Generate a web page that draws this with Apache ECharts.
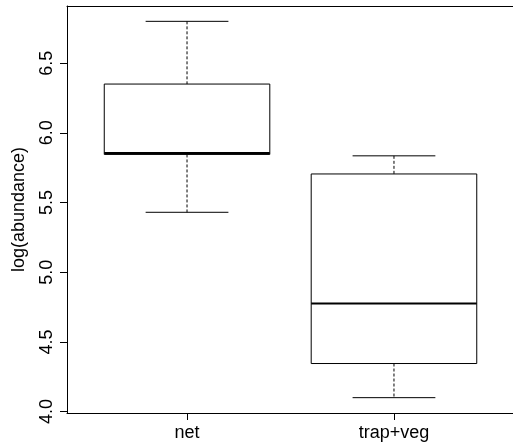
<!DOCTYPE html>
<html>
<head>
<meta charset="utf-8">
<script src="https://cdn.jsdelivr.net/npm/echarts@6/dist/echarts.min.js"></script>
<style>
  html, body { margin: 0; padding: 0; background: #fff; }
  #chart { width: 513px; height: 445px; }
</style>
</head>
<body>
<div id="chart"></div>
<script>
// groups and their five-number summaries
const categories = ['net', 'trap+veg'];
const lowWhisker = [5.43, 4.10];
const lowerQuartile = [5.845, 4.345];
const medians = [5.855, 4.775];
const upperQuartile = [6.35, 5.705];
const highWhisker = [6.80, 5.835];
const yTicks = [4.0, 4.5, 5.0, 5.5, 6.0, 6.5];

const FONT = 'Liberation Sans, Arial, Helvetica, sans-serif';
const X_MIN = 0.42, X_MAX = 2.58;

// one row per box: position on x (1-based), then the summary values
const boxData = categories.map((c, i) => [
  i + 1, lowWhisker[i], lowerQuartile[i], medians[i], upperQuartile[i], highWhisker[i]
]);

function renderBox(params, api) {
  const x = api.value(0);
  const boxHalf = api.size([0.8, 0])[0] / 2;
  const capHalf = boxHalf / 2;
  const lo = api.coord([x, api.value(1)]);
  const q1 = api.coord([x, api.value(2)]);
  const med = api.coord([x, api.value(3)]);
  const q3 = api.coord([x, api.value(4)]);
  const hi = api.coord([x, api.value(5)]);
  const solid = { stroke: '#000', lineWidth: 1, fill: null };
  const dashed = { stroke: '#000', lineWidth: 1, lineDash: [3, 2] };
  return {
    type: 'group',
    children: [
      // whiskers
      { type: 'line', shape: { x1: hi[0], y1: hi[1], x2: q3[0], y2: q3[1] }, style: dashed },
      { type: 'line', shape: { x1: q1[0], y1: q1[1], x2: lo[0], y2: lo[1] }, style: dashed },
      // staples
      { type: 'line', shape: { x1: hi[0] - capHalf, y1: hi[1], x2: hi[0] + capHalf, y2: hi[1] }, style: solid },
      { type: 'line', shape: { x1: lo[0] - capHalf, y1: lo[1], x2: lo[0] + capHalf, y2: lo[1] }, style: solid },
      // box
      { type: 'rect', shape: { x: q3[0] - boxHalf, y: q3[1], width: boxHalf * 2, height: q1[1] - q3[1] }, style: solid },
      // median
      { type: 'line', shape: { x1: med[0] - boxHalf, y1: med[1], x2: med[0] + boxHalf, y2: med[1] },
        style: { stroke: '#000', lineWidth: 2 } }
    ]
  };
}

const frameLine = { show: true, onZero: false, lineStyle: { color: '#000', width: 1 } };

const chart = echarts.init(document.getElementById('chart'), null, { renderer: 'canvas' });

chart.setOption({
  backgroundColor: '#fff',
  animation: false,
  grid: {
    left: 67, top: 6, width: 447, height: 407,
    outerBoundsMode: 'none'
  },
  xAxis: [{
    type: 'value',
    min: X_MIN,
    max: X_MAX,
    axisLine: frameLine,
    splitLine: { show: false },
    axisTick: { show: true, length: 7, customValues: [1, 2], lineStyle: { color: '#000' } },
    axisLabel: {
      customValues: [1, 2],
      formatter: (v) => categories[Math.round(v) - 1],
      color: '#000', fontSize: 18, fontFamily: FONT, margin: 11
    }
  }, {
    // top edge of the box frame
    type: 'value',
    position: 'top',
    min: X_MIN,
    max: X_MAX,
    axisLine: frameLine,
    axisTick: { show: false },
    axisLabel: { show: false },
    splitLine: { show: false }
  }],
  yAxis: {
    type: 'value',
    min: 3.99,
    max: 6.91,
    name: 'log(abundance)',
    nameLocation: 'middle',
    nameGap: 39,
    nameTextStyle: { color: '#000', fontSize: 18, fontFamily: FONT },
    axisLine: frameLine,
    splitLine: { show: false },
    axisTick: { show: true, length: 7, customValues: yTicks, lineStyle: { color: '#000' } },
    axisLabel: {
      customValues: yTicks,
      formatter: (v) => v.toFixed(1),
      rotate: 90,
      color: '#000', fontSize: 18, fontFamily: FONT, margin: 11
    }
  },
  series: [{
    type: 'custom',
    renderItem: renderBox,
    data: boxData,
    xAxisIndex: 0,
    encode: { x: 0, y: [1, 2, 3, 4, 5] },
    silent: true
  }]
});
</script>
</body>
</html>
